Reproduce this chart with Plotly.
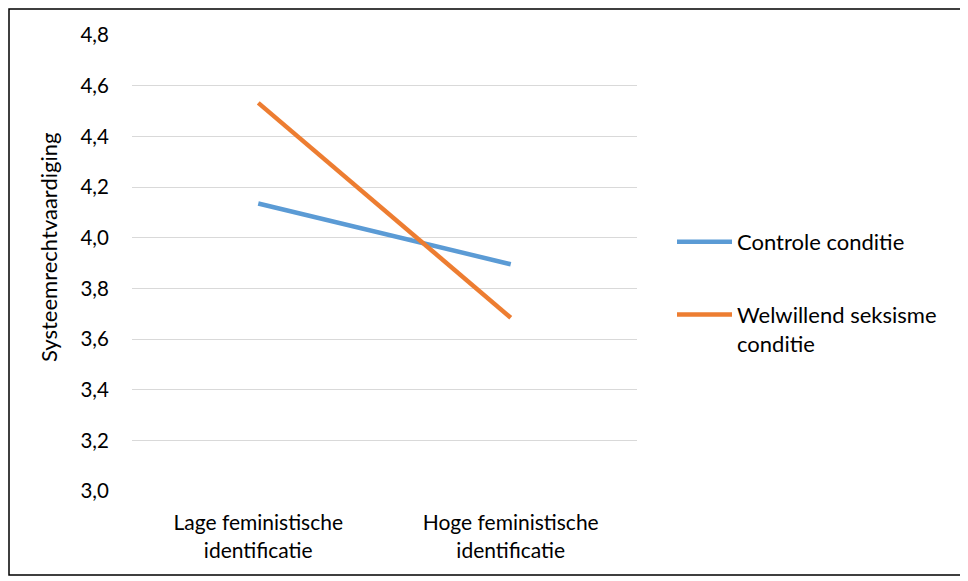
import plotly.graph_objects as go

categories = ["Lage feministische<br>identificatie", "Hoge feministische<br>identificatie"]
controle = [4.135, 3.895]
welwillend = [4.532, 3.684]
series_names = ["Controle conditie", "Welwillend seksisme<br>conditie"]
y_ticks = [3.0, 3.2, 3.4, 3.6, 3.8, 4.0, 4.2, 4.4, 4.6, 4.8]
y_title = "Systeemrechtvaardiging"

# page has an 8px body margin; work in page pixels and shift
OFF = 8
W, H = 968 - OFF, 581 - OFF
L, R, T, B = 132 - OFF, 637 - OFF, 35 - OFF, 491 - OFF
FONT = "Lato"

fig = go.Figure()
fig.add_trace(go.Scatter(x=categories, y=controle, mode="lines", name=series_names[0],
                         legendgroup="a",
                         line=dict(color="#5B9BD5", width=4.5)))
fig.add_trace(go.Scatter(x=categories, y=welwillend, mode="lines", name=series_names[1],
                         legendgroup="b",
                         line=dict(color="#ED7D31", width=4.5)))

def px_x(px):
    return (px - OFF - L) / (R - L)

def px_y(py):
    return (B - (py - OFF)) / (B - T)

fig.update_layout(
    width=W, height=H,
    margin=dict(l=L, r=W - R, t=T, b=H - B),
    paper_bgcolor="white", plot_bgcolor="white",
    separators=",.",
    font=dict(family=FONT, size=20, color="#000000"),
    showlegend=True,
    legend=dict(x=px_x(672), y=px_y(221), xanchor="left", yanchor="top",
                font=dict(size=22), traceorder="grouped", tracegroupgap=41,
                valign="top", bgcolor="rgba(0,0,0,0)", itemwidth=55),
    xaxis=dict(type="category", range=[-0.5, 1.5], showgrid=False, showline=False,
               zeroline=False, ticks="outside", ticklen=13, tickcolor="rgba(0,0,0,0)",
               tickfont=dict(size=21)),
    yaxis=dict(range=[3.0, 4.8], tickvals=y_ticks, tickformat=".1f",
               showgrid=True, gridcolor="#D9D9D9", gridwidth=1, zeroline=False,
               showline=False, ticks="outside", ticklen=18, tickcolor="rgba(0,0,0,0)",
               tickfont=dict(size=20.5)),
    annotations=[dict(text=y_title, textangle=-90, xref="paper", yref="paper",
                      x=px_x(49), y=px_y(248), xanchor="center", yanchor="middle",
                      showarrow=False, font=dict(size=22))],
    shapes=[dict(type="rect", xref="paper", yref="paper",
                 x0=px_x(OFF + 1), x1=px_x(963), y0=px_y(575), y1=px_y(OFF + 1),
                 line=dict(color="#000000", width=1.5), fillcolor="rgba(0,0,0,0)",
                 layer="below")],
)

fig.write_html("out.html")
